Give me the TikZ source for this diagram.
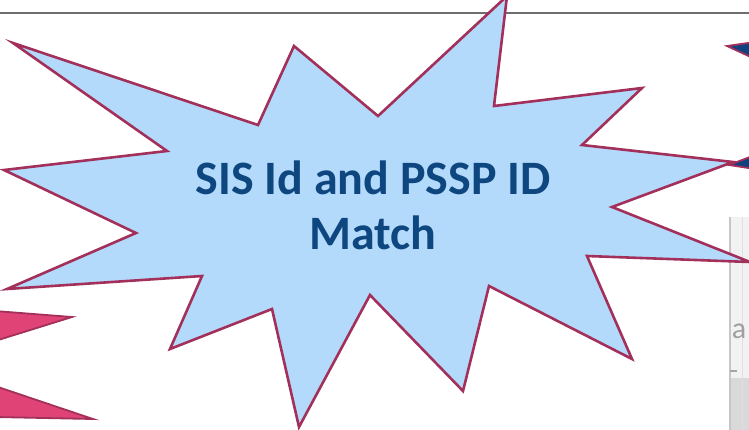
\documentclass[tikz,border=0pt]{standalone}
\usepackage{fontspec}
\setmainfont{Carlito}
\usepackage{xcolor}
\usetikzlibrary{positioning}
\definecolor{burstfill}{HTML}{B4DAFB}
\definecolor{burstline}{HTML}{A2305A}
\definecolor{titleblue}{HTML}{0E467F}
\definecolor{spikepink}{HTML}{E04477}
\definecolor{spikeblue}{HTML}{10427E}
\definecolor{rulegray}{HTML}{6E6E6E}

\begin{document}
\begin{tikzpicture}[x=1pt,y=-1pt,
    burst/.style={fill=burstfill, draw=burstline, line width=2.6pt, line join=miter},
    backspike/.style={draw=burstline, line width=1.8pt, line join=miter},
    titletext/.style={text=titleblue, align=center, font=\fontsize{48}{55}\selectfont\bfseries}]
    \useasboundingbox (0,0) rectangle (749,429);
    \clip (0,0) rectangle (749,429);

    \draw[rulegray, line width=2.5pt] (0,13) -- (749,13);

    \begin{scope}
        \draw[backspike, fill=spikeblue] (727,46) -- (755,42) -- (755,59) -- cycle;
        \draw[backspike, fill=spikeblue] (729,165) -- (755,155) -- (755,169) -- cycle;
        \draw[backspike, fill=spikepink] (-5,311) -- (72,317) -- (-5,341) -- cycle;
        \draw[backspike, fill=spikepink] (-5,386) -- (93,419) -- (-5,417) -- cycle;
    \end{scope}

    \begin{scope}
        \fill[gray!10] (730,217) rectangle (760,435);
        \fill[gray!30] (731,378) rectangle (760,435);
        \draw[gray!45, line width=1.5pt] (730,217) -- (730,435);
        \draw[gray!25, line width=1pt] (742,217) -- (742,435);
        \node[text=gray!75, font=\fontsize{30}{30}\selectfont, inner sep=0pt] (sidea) at (739,331) {a};
        \draw[gray!70, line width=2pt] (730,371) -- (737,371);
    \end{scope}

    \draw[burst] (13,43) -- (258,125) -- (294,46) -- (378,116) -- (507,-4)
        -- (494,106) -- (642,88) -- (582,145) -- (733,162) -- (612,207)
        -- (750,262) -- (587,256) -- (632,359) -- (489,286) -- (463,391)
        -- (370,295) -- (299,427) -- (272,309) -- (170,349) -- (202,276)
        -- (7,289) -- (136,233) -- (4,170) -- (167,151) -- cycle;

    \node[titletext] (title) at (373,205) {SIS Id and PSSP ID\\Match};
\end{tikzpicture}
\end{document}
